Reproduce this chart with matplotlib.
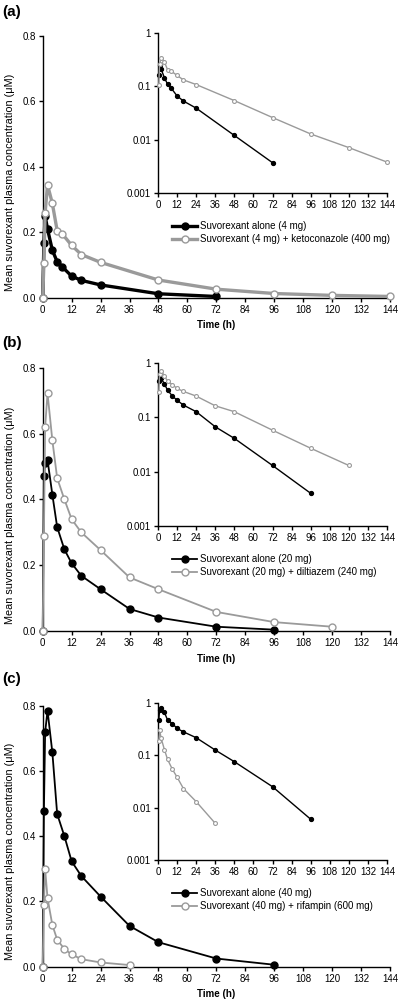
import numpy as np
import matplotlib
matplotlib.use("Agg")
import matplotlib.pyplot as plt

plt.rcParams["font.family"] = ["Liberation Sans", "DejaVu Sans"]
plt.rcParams["font.size"] = 7

# (a) suvorexant 4 mg +/- ketoconazole
t_a_alone = [0, 0.5, 1, 2, 4, 6, 8, 12, 16, 24, 48, 72]
c_a_alone = [0, 0.166, 0.25, 0.21, 0.145, 0.11, 0.095, 0.066, 0.053, 0.039, 0.012, 0.0037]
t_a_combo = [0, 0.5, 1, 2, 4, 6, 8, 12, 16, 24, 48, 72, 96, 120, 144]
c_a_combo = [0, 0.105, 0.26, 0.345, 0.288, 0.205, 0.196, 0.16, 0.132, 0.108, 0.054, 0.026, 0.0128, 0.0071, 0.0038]

# (b) suvorexant 20 mg +/- diltiazem
t_b_alone = [0, 0.5, 1, 2, 4, 6, 9, 12, 16, 24, 36, 48, 72, 96]
c_b_alone = [0, 0.47, 0.51, 0.52, 0.415, 0.316, 0.248, 0.206, 0.168, 0.127, 0.067, 0.041, 0.013, 0.004]
t_b_combo = [0, 0.5, 1, 2, 4, 6, 9, 12, 16, 24, 36, 48, 72, 96, 120]
c_b_combo = [0, 0.29, 0.62, 0.723, 0.58, 0.465, 0.40, 0.34, 0.30, 0.246, 0.163, 0.127, 0.058, 0.027, 0.013]

# (c) suvorexant 40 mg +/- rifampin
t_c_alone = [0, 0.5, 1, 2, 4, 6, 9, 12, 16, 24, 36, 48, 72, 96]
c_c_alone = [0, 0.477, 0.718, 0.785, 0.657, 0.468, 0.40, 0.323, 0.278, 0.215, 0.125, 0.075, 0.025, 0.006]
t_c_combo = [0, 0.5, 1, 2, 4, 6, 9, 12, 16, 24, 36]
c_c_combo = [0, 0.19, 0.30, 0.21, 0.128, 0.083, 0.054, 0.038, 0.023, 0.013, 0.005]

panels = [
    ("(a)", t_a_alone, c_a_alone, t_a_combo, c_a_combo,
     ["Suvorexant alone (4 mg)", "Suvorexant (4 mg) + ketoconazole (400 mg)"], 2.4),
    ("(b)", t_b_alone, c_b_alone, t_b_combo, c_b_combo,
     ["Suvorexant alone (20 mg)", "Suvorexant (20 mg) + diltiazem (240 mg)"], 1.3),
    ("(c)", t_c_alone, c_c_alone, t_c_combo, c_c_combo,
     ["Suvorexant alone (40 mg)", "Suvorexant (40 mg) + rifampin (600 mg)"], 1.3),
]

# pixel positions (top, bottom) of main axes and insets, panel letters
main_px = [(36, 297.7), (368, 631), (705.7, 966.7)]
inset_px = [(33, 193), (363, 526), (702.7, 860)]
label_px = [12, 343, 679]

W, H = 400, 1002
fig = plt.figure(figsize=(W / 100, H / 100), dpi=100)

GRAY = "#9a9a9a"
xt = np.arange(0, 145, 12)


def style(ax):
    for s in ["top", "right"]:
        ax.spines[s].set_visible(False)
    for s in ["left", "bottom"]:
        ax.spines[s].set_linewidth(1.0)
    ax.tick_params(direction="out", length=3, width=1.0, pad=2)


for i, (lab, ta, ca, tc, cc, names, lw) in enumerate(panels):
    top, bot = main_px[i]
    ax = fig.add_axes([42.7 / W, 1 - bot / H, (390 - 42.7) / W, (bot - top) / H])
    ax.plot(ta, ca, color="black", lw=lw, marker="o", ms=5, mfc="black", mec="black",
            clip_on=False, zorder=3, label=names[0])
    ax.plot(tc, cc, color=GRAY, lw=lw, marker="o", ms=5, mfc="white", mec=GRAY, mew=1.0,
            clip_on=False, zorder=4, label=names[1])
    ax.set_xlim(0, 144)
    ax.set_ylim(0, 0.8)
    ax.set_xticks(xt)
    ax.set_yticks([0, 0.2, 0.4, 0.6, 0.8])
    ax.yaxis.set_major_formatter(matplotlib.ticker.FormatStrFormatter("%.1f"))
    style(ax)
    ax.set_xlabel("Time (h)", fontsize=7, fontweight="bold", labelpad=4)
    ax.set_ylabel("Mean suvorexant plasma concentration (\u03bcM)", fontsize=7.8)
    ax.yaxis.set_label_coords(-0.08, 0.44)
    fig.text(2 / W, 1 - label_px[i] / H, lab, fontsize=11, fontweight="bold", va="center")

    # inset on log scale
    itop, ibot = inset_px[i]
    ins = fig.add_axes([158 / W, 1 - ibot / H, (387 - 158) / W, (ibot - itop) / H])
    ta_i = [t for t, c in zip(ta, ca) if c > 0]
    ca_i = [c for c in ca if c > 0]
    tc_i = [t for t, c in zip(tc, cc) if c > 0]
    cc_i = [c for c in cc if c > 0]
    ins.plot(ta_i, ca_i, color="black", lw=1.0, marker="o", ms=2.8, mfc="black", mec="black",
             clip_on=False, zorder=3)
    ins.plot(tc_i, cc_i, color=GRAY, lw=1.0, marker="o", ms=2.8, mfc="white", mec=GRAY, mew=0.8,
             clip_on=False, zorder=4)
    ins.set_yscale("log")
    ins.set_xlim(0, 144)
    ins.set_ylim(0.001, 1)
    ins.set_xticks(xt)
    ins.set_yticks([0.001, 0.01, 0.1, 1])
    ins.set_yticklabels(["0.001", "0.01", "0.1", "1"])
    ins.yaxis.set_minor_locator(matplotlib.ticker.NullLocator())
    style(ins)

    h, l = ax.get_legend_handles_labels()
    fig.legend(h, l, loc="upper left", bbox_to_anchor=(172 / W, 1 - (ibot + 28) / H),
               frameon=False, fontsize=7, handlelength=2.6, handletextpad=0.3,
               borderpad=0, labelspacing=0.35, borderaxespad=0)

fig.savefig("out.png", dpi=100)
